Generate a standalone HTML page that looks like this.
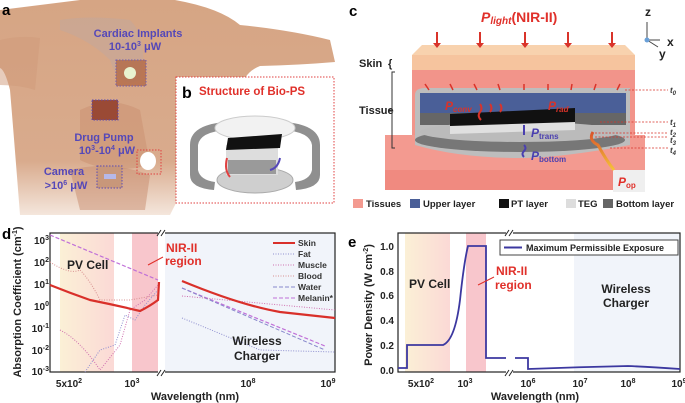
<!DOCTYPE html>
<html><head><meta charset="utf-8"><style>
html,body{margin:0;padding:0;background:#fff}
svg{display:block}
text{font-family:"Liberation Sans",Arial,sans-serif;font-weight:bold}
</style></head><body>
<svg width="685" height="403" viewBox="0 0 685 403" xmlns="http://www.w3.org/2000/svg">
<defs>
<linearGradient id="skinfade" x1="0" y1="0" x2="0" y2="1">
<stop offset="0" stop-color="#d6a584"/><stop offset="0.75" stop-color="#d9ab8d"/><stop offset="1" stop-color="#f4e6dc"/></linearGradient>
<linearGradient id="pv" x1="0" y1="0" x2="1" y2="0">
<stop offset="0" stop-color="#fbf0d6"/><stop offset="1" stop-color="#fbd9d6"/></linearGradient>
<linearGradient id="cable" x1="0" y1="0" x2="0" y2="1"><stop offset="0" stop-color="#d9532a"/><stop offset="1" stop-color="#f5c23a"/></linearGradient>
</defs>
<!-- Panel a -->
<path d="M0 10 Q40 5 80 0 L175 0 Q220 8 240 25 Q290 30 330 40 L335 62 Q300 65 260 66 Q250 70 245 78 L176 78 L176 203 L170 215 L20 215 Q15 150 10 90 Q5 70 0 68 Z" fill="url(#skinfade)"/>
<path d="M0 40 Q20 35 40 38 L35 90 Q20 85 0 85Z" fill="#cf9a79" opacity="0.5"/>
<path d="M80 110 Q110 95 140 110 L150 165 Q110 175 80 160Z" fill="#c98f70" opacity="0.5"/>
<path d="M70 170 Q110 160 150 175 L145 210 L80 210Z" fill="#c88c6e" opacity="0.5"/>
<path d="M60 20 Q90 15 130 20 Q150 40 140 80 Q120 90 110 60 Q90 40 60 30Z" fill="#b8a8a8" opacity="0.35"/>
<rect x="116" y="60" width="30" height="26" fill="#b36a48" opacity="0.8" stroke="#5b4bb5" stroke-dasharray="1.5,1.5"/>
<circle cx="130" cy="73" r="6" fill="#e8f3d0"/>
<rect x="92" y="100" width="26" height="20" fill="#9a4a35" stroke="#5b4bb5" stroke-dasharray="1.5,1.5"/>
<rect x="97" y="166" width="25" height="22" fill="#c8977a" stroke="#5b4bb5" stroke-dasharray="1.5,1.5"/>
<rect x="104" y="174" width="12" height="5" fill="#b6b8e8"/>
<rect x="137" y="150" width="24" height="24" fill="none" stroke="#e04040" stroke-dasharray="1.5,1.5"/>
<ellipse cx="148" cy="161" rx="8" ry="9" fill="#fff"/>
<text x="2" y="15" font-size="15" fill="#000">a</text>
<g fill="#5548b8" font-size="11" text-anchor="middle">
<text x="138" y="37">Cardiac Implants</text><text x="135" y="50">10-10<tspan font-size="7" dy="-4">3</tspan><tspan dy="4"> μW</tspan></text>
<text x="104" y="141">Drug Pump</text><text x="107" y="154">10<tspan font-size="7" dy="-4">3</tspan><tspan dy="4">-10</tspan><tspan font-size="7" dy="-4">4</tspan><tspan dy="4"> μW</tspan></text>
<text x="64" y="175">Camera</text><text x="66" y="189">&gt;10<tspan font-size="7" dy="-4">6</tspan><tspan dy="4"> μW</tspan></text>
</g>
<!-- Panel b -->
<rect x="176" y="77" width="158" height="126" fill="#fff" stroke="#e04040" stroke-dasharray="1.5,1.5"/>
<text x="182" y="98" font-size="16" fill="#000">b</text>
<text x="199" y="95" font-size="11.5" fill="#e0302a">Structure of Bio-PS</text>
<path d="M190 145 Q190 125 225 122 L226 130 Q200 132 198 145 L198 170 Q200 180 215 182 L214 190 Q190 188 190 175Z" fill="#8f8f8f"/>
<path d="M320 145 Q320 125 285 122 L284 130 Q310 132 312 145 L312 170 Q310 180 295 182 L296 190 Q320 188 320 175Z" fill="#8f8f8f"/>
<ellipse cx="255" cy="180" rx="38" ry="13" fill="#cfcfcf" stroke="#aaa"/>
<rect x="226" y="145" width="52" height="30" fill="#ddd"/>
<rect x="228" y="160" width="48" height="14" fill="#9a9a9a"/>
<ellipse cx="255" cy="128" rx="40" ry="12" fill="#f2f2f2" stroke="#ccc"/>
<path d="M228 138 L282 134 L280 148 L226 150Z" fill="#111"/>
<path d="M227 158 Q224 170 230 177" stroke="#e04040" stroke-width="2" fill="none"/>
<path d="M280 158 Q278 168 270 170" stroke="#5548b8" stroke-width="2" fill="none"/>
<!-- Panel c -->
<text x="349" y="16" font-size="15" fill="#000">c</text>
<text x="481" y="22" font-size="14" fill="#e0302a" font-style="italic" font-family="Liberation Serif">P<tspan font-size="10" dy="2">light</tspan><tspan dy="-2" font-family="Liberation Sans" font-style="normal">(NIR-II)</tspan></text>
<text x="645" y="16" font-size="12" fill="#222">z</text><text x="667" y="46" font-size="12" fill="#222">x</text><text x="659" y="58" font-size="12" fill="#222">y</text>
<path d="M647 22 V40 L660 40 M647 40 L658 47" stroke="#444" stroke-width="1" fill="none"/><circle cx="647" cy="40" r="2.5" fill="#6aa0d8"/>
<path d="M385 170 L645 170 L645 190 L385 190Z" fill="#f08a80"/>
<path d="M412 68 L635 68 L635 170 L412 170Z" fill="#f2948a"/>
<path d="M385 135 L645 135 L645 170 L385 170Z" fill="#f39a90"/>
<path d="M412 55 L635 55 L635 70 L412 70Z" fill="#f6c49e"/>
<path d="M422 45 L625 45 L635 55 L412 55Z" fill="#f8d2ae"/>
<rect x="613" y="170" width="32" height="22" fill="#efefef"/>
<text x="618" y="186" font-size="12" fill="#e0302a" font-style="italic" font-family="Liberation Serif">P<tspan font-size="8" dy="2" font-style="normal">op</tspan></text>
<path d="M415 95 Q415 88 425 88 L630 88 L630 145 Q560 158 520 158 Q460 158 415 145Z" fill="#bdbdbd"/>
<rect x="420" y="93" width="206" height="20" fill="#4a5f98"/>
<rect x="420" y="113" width="206" height="12" fill="#666"/>
<ellipse cx="520" cy="140" rx="105" ry="12" fill="#777"/>
<ellipse cx="520" cy="132" rx="100" ry="10" fill="#bbb"/>
<path d="M450 117 L575 111 L575 130 L450 134Z" fill="#e0e0e0"/>
<path d="M450 114 L575 108 L575 122 L450 126Z" fill="#111"/>
<path d="M593 132 Q588 140 598 145 Q606 160 614 170" stroke="url(#cable)" stroke-width="3" fill="none"/>
<g stroke="#d9332a" stroke-width="2" fill="#d9332a">
<path d="M437 32V44 M480 32V44 M525 32V44 M568 32V44 M612 32V44"/>
</g>
<g fill="#d9332a"><path d="M433 43h8l-4 5z M476 43h8l-4 5z M521 43h8l-4 5z M564 43h8l-4 5z M608 43h8l-4 5z"/></g>
<g stroke="#d9332a" stroke-width="1.5"><path d="M425 84l4 6 M450 84l3 6 M474 84l3 6 M498 84l2 6 M524 84v6 M548 84v6 M572 84l-1 6 M596 84l-2 6 M620 84l-3 6"/></g>
<text x="445" y="110" font-size="12" fill="#d9332a" font-style="italic" font-family="Liberation Serif">P<tspan font-size="8" dy="2">conv</tspan></text>
<text x="548" y="110" font-size="12" fill="#d9332a" font-style="italic" font-family="Liberation Serif">P<tspan font-size="8" dy="2">rad</tspan></text>
<path d="M480 104q3 4 0 8q-3 4 1 8 M490 104q3 4 0 8 M500 104q3 4 0 8" stroke="#d9332a" stroke-width="2" fill="none"/>
<text x="531" y="137" font-size="12" fill="#4a3fb0" font-style="italic" font-family="Liberation Serif">P<tspan font-size="8" dy="2" font-style="normal" font-weight="bold">trans</tspan></text>
<text x="531" y="160" font-size="12" fill="#4a3fb0" font-style="italic" font-family="Liberation Serif">P<tspan font-size="8" dy="2" font-style="normal" font-weight="bold">bottom</tspan></text>
<path d="M524 125v10 M524 145q3 3 0 6q-3 3 0 6" stroke="#4a3fb0" stroke-width="2" fill="none"/>
<text x="359" y="67" font-size="11" fill="#222">Skin</text><text x="388" y="67" font-size="11" fill="#222" font-weight="normal">{</text>
<text x="359" y="114" font-size="11" fill="#222">Tissue</text>
<path d="M395 72h-3v76h3 M392 110h-3" stroke="#333" fill="none"/>
<g stroke="#d9332a" stroke-dasharray="2,1.5" stroke-width="0.8"><path d="M625 90H668 M600 122H668 M595 133H668 M595 137H668 M610 148H668"/></g>
<g font-size="8" fill="#333" font-style="italic" font-family="Liberation Serif" font-weight="normal">
<text x="670" y="93">t<tspan font-size="6" dy="2">0</tspan></text><text x="670" y="125">t<tspan font-size="6" dy="2">1</tspan></text><text x="670" y="135">t<tspan font-size="6" dy="2">2</tspan></text><text x="670" y="143">t<tspan font-size="6" dy="2">3</tspan></text><text x="670" y="153">t<tspan font-size="6" dy="2">4</tspan></text></g>
<g font-size="9.5" fill="#222">
<rect x="353" y="199" width="10" height="9" fill="#f39a90"/><text x="366" y="207">Tissues</text>
<rect x="410" y="199" width="10" height="9" fill="#4a5f98"/><text x="423" y="207">Upper layer</text>
<rect x="499" y="199" width="10" height="9" fill="#111"/><text x="511" y="207">PT layer</text>
<rect x="566" y="199" width="10" height="9" fill="#ddd"/><text x="578" y="207">TEG</text>
<rect x="603" y="199" width="10" height="9" fill="#666"/><text x="616" y="207">Bottom layer</text>
</g>
<!-- Panel d -->
<text x="2" y="239" font-size="15" fill="#000">d</text>
<rect x="60" y="233" width="54" height="139" fill="url(#pv)"/>
<rect x="132" y="233" width="26" height="139" fill="#f8c6cc"/>
<rect x="165" y="233" width="170" height="139" fill="#f1f4fa"/>
<rect x="50" y="233" width="285" height="139" fill="none" stroke="#222" stroke-width="1.2"/>
<rect x="158" y="228" width="7" height="148" fill="#fff"/>
<path d="M157 236l4 -6 M161 236l4 -6 M157 376l4 -6 M161 376l4 -6" stroke="#222"/>
<path d="M50 235 L158 280 M182 288 L325 346" stroke="#c070d8" stroke-dasharray="4,2" fill="none" stroke-width="1.2"/>
<path d="M182 288 L325 350" stroke="#8888cc" stroke-dasharray="4,2" fill="none"/>
<path d="M50 262 Q70 275 80 270 Q90 280 100 300 L130 300 L158 295" stroke="#d89090" stroke-dasharray="1,1.5" fill="none"/>
<path d="M60 330 Q80 340 100 370 L120 345 L130 310 L145 300 L158 285 M182 296 L335 310" stroke="#d070b0" stroke-dasharray="1,1.5" fill="none"/>
<path d="M85 372 L100 350 L115 345 L125 315 L135 320 L145 305 L158 290 M182 318 L260 350 L335 352" stroke="#9090d0" stroke-dasharray="1,1.5" fill="none"/>
<path d="M50 285 Q70 293 90 300 Q115 305 140 311 Q150 306 158 300 L159 282 M182 281 Q240 305 280 312 L335 318" stroke="#d9302a" stroke-width="2.2" fill="none"/>
<g font-size="10" fill="#222"><text x="49" y="244" text-anchor="end">10<tspan font-size="7" dy="-4">3</tspan></text>
<text x="49" y="266" text-anchor="end">10<tspan font-size="7" dy="-4">2</tspan></text>
<text x="49" y="288" text-anchor="end">10<tspan font-size="7" dy="-4">1</tspan></text>
<text x="49" y="310" text-anchor="end">10<tspan font-size="7" dy="-4">0</tspan></text>
<text x="49" y="332" text-anchor="end">10<tspan font-size="7" dy="-4">-1</tspan></text>
<text x="49" y="354" text-anchor="end">10<tspan font-size="7" dy="-4">-2</tspan></text>
<text x="49" y="375" text-anchor="end">10<tspan font-size="7" dy="-4">-3</tspan></text>
<text x="69" y="387" text-anchor="middle">5x10<tspan font-size="7" dy="-4">2</tspan></text>
<text x="132" y="387" text-anchor="middle">10<tspan font-size="7" dy="-4">3</tspan></text>
<text x="248" y="387" text-anchor="middle">10<tspan font-size="7" dy="-4">8</tspan></text>
<text x="328" y="387" text-anchor="middle">10<tspan font-size="7" dy="-4">9</tspan></text></g>
<text x="195" y="400" font-size="11" fill="#222" text-anchor="middle">Wavelength (nm)</text>
<text transform="translate(21,302) rotate(-90)" font-size="11" fill="#222" text-anchor="middle">Absorption Coefficient (cm<tspan font-size="7" dy="-4">-1</tspan><tspan dy="4">)</tspan></text>
<text x="67" y="269" font-size="12" fill="#222">PV Cell</text>
<text x="166" y="252" font-size="12" fill="#e0302a">NIR-II</text><text x="165" y="265" font-size="12" fill="#e0302a">region</text>
<path d="M163 257 L148 265" stroke="#e0302a"/>
<text x="257" y="345" font-size="12" fill="#222" text-anchor="middle">Wireless</text><text x="257" y="360" font-size="12" fill="#222" text-anchor="middle">Charger</text>
<g font-size="8.5" fill="#333"><path d="M273 243h22" stroke="#d9302a" stroke-width="2"/><text x="298" y="246">Skin</text>
<path d="M273 254h22" stroke="#9090d0" stroke-dasharray="1,1.5"/><text x="298" y="257">Fat</text>
<path d="M273 265h22" stroke="#d070b0" stroke-dasharray="1,1.5"/><text x="298" y="268">Muscle</text>
<path d="M273 276h22" stroke="#d89090" stroke-dasharray="1,1.5"/><text x="298" y="279">Blood</text>
<path d="M273 287h22" stroke="#8888cc" stroke-dasharray="4,2"/><text x="298" y="290">Water</text>
<path d="M273 298h22" stroke="#c070d8" stroke-dasharray="4,2"/><text x="298" y="301">Melanin*</text></g>
<!-- Panel e -->
<text x="348" y="247" font-size="15" fill="#000">e</text>
<rect x="405" y="233" width="45" height="139" fill="url(#pv)"/>
<rect x="466" y="233" width="20" height="139" fill="#f8c6cc"/>
<rect x="574" y="233" width="106" height="139" fill="#f1f4fa"/>
<rect x="398" y="233" width="282" height="139" fill="none" stroke="#222" stroke-width="1.2"/>
<rect x="506" y="228" width="7" height="148" fill="#fff"/>
<path d="M505 236l4 -6 M509 236l4 -6 M505 376l4 -6 M509 376l4 -6" stroke="#222"/>
<path d="M398 368 H407 V345 H443 Q455 340 460 300 Q464 262 468 246 H486 V358 H506 M515 358 H528 V369 Q580 367 628 366 Q650 367 680 369" stroke="#3c38a0" stroke-width="1.8" fill="none"/>
<rect x="500" y="240" width="178" height="15" fill="#fff" stroke="#444"/>
<path d="M504 247.5h18" stroke="#3c38a0" stroke-width="2"/>
<text x="526" y="251" font-size="9" fill="#222">Maximum Permissible Exposure</text>
<g font-size="10" fill="#222" text-anchor="end"><text x="394" y="250">1.0</text><text x="394" y="275">0.8</text><text x="394" y="299">0.6</text><text x="394" y="324">0.4</text><text x="394" y="349">0.2</text><text x="394" y="374">0.0</text></g>
<g font-size="10" fill="#222" text-anchor="middle"><text x="421" y="387">5x10<tspan font-size="7" dy="-4">2</tspan></text>
<text x="465" y="387">10<tspan font-size="7" dy="-4">3</tspan></text><text x="528" y="387">10<tspan font-size="7" dy="-4">6</tspan></text>
<text x="580" y="387">10<tspan font-size="7" dy="-4">7</tspan></text><text x="628" y="387">10<tspan font-size="7" dy="-4">8</tspan></text><text x="679" y="387">10<tspan font-size="7" dy="-4">9</tspan></text></g>
<text x="535" y="400" font-size="11" fill="#222" text-anchor="middle">Wavelength (nm)</text>
<text transform="translate(372,305) rotate(-90)" font-size="11" fill="#222" text-anchor="middle">Power Density (W cm<tspan font-size="7" dy="-4">-2</tspan><tspan dy="4">)</tspan></text>
<text x="409" y="288" font-size="12" fill="#222">PV Cell</text>
<text x="496" y="275" font-size="12" fill="#e0302a">NIR-II</text><text x="495" y="289" font-size="12" fill="#e0302a">region</text>
<path d="M494 277 L478 285" stroke="#e0302a"/>
<text x="626" y="293" font-size="12" fill="#222" text-anchor="middle">Wireless</text><text x="626" y="307" font-size="12" fill="#222" text-anchor="middle">Charger</text>
</svg>
</body></html>
